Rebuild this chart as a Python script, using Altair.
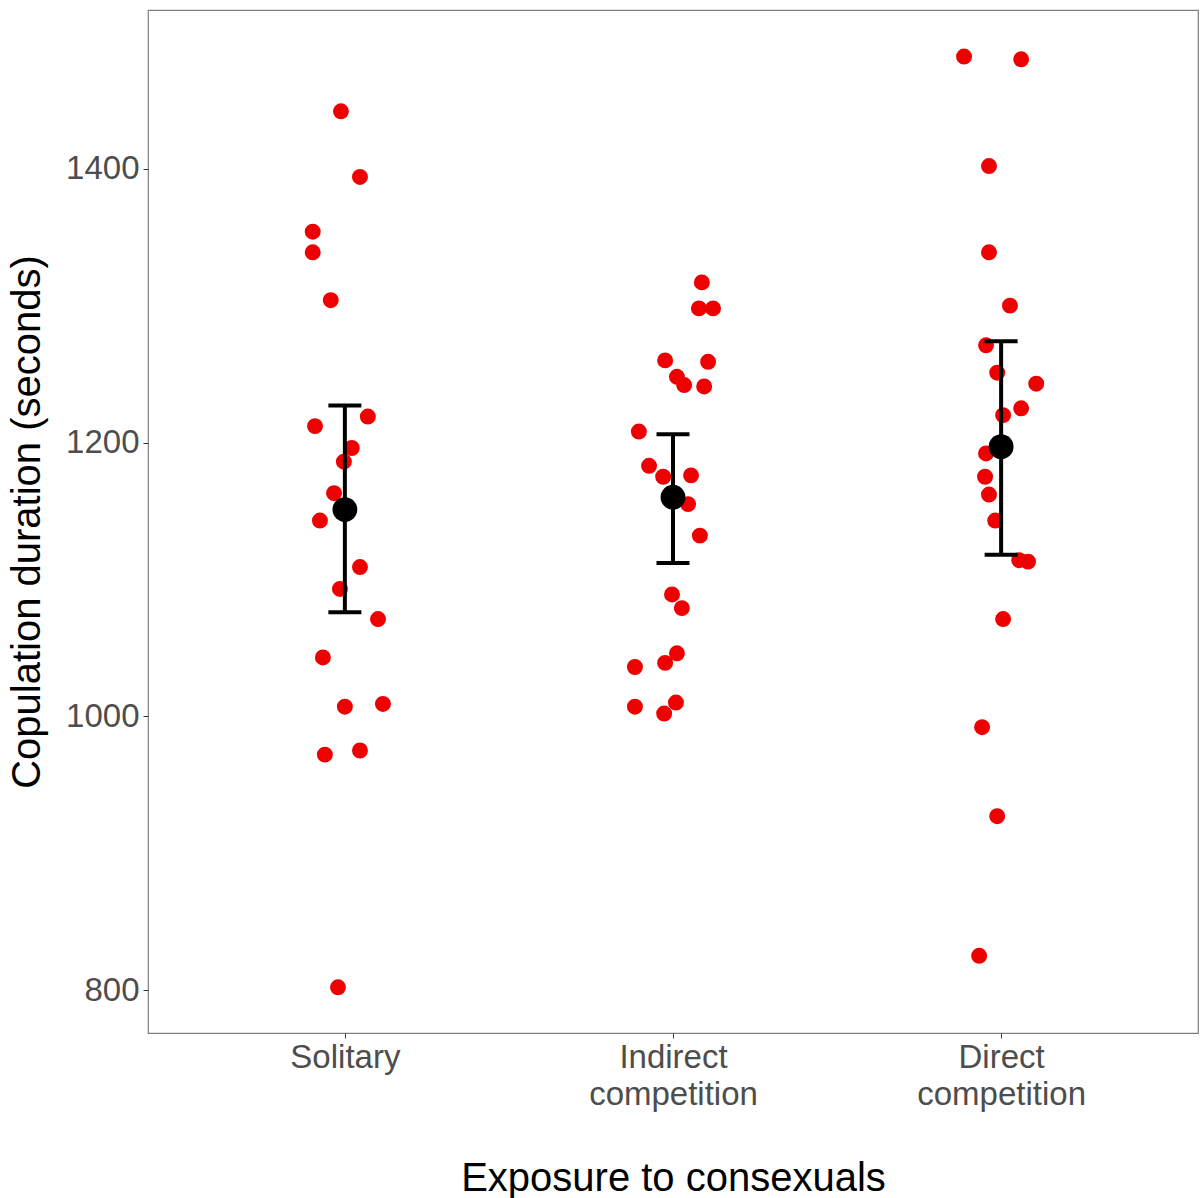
import altair as alt
import pandas as pd

# Treatment groups (x positions 1, 2, 3 on the axis)
categories = ["Solitary", "Indirect\ncompetition", "Direct\ncompetition"]

# Individual copulation durations (seconds) and their jittered x positions
solitary_y = [1442, 1394, 1354, 1339, 1304, 1212, 1219, 1196, 1186, 1163,
              1143, 1109, 1093, 1071, 1043, 1007, 1009, 972, 975, 802]
solitary_x = [0.988, 1.046, 0.902, 0.902, 0.957, 0.909, 1.070, 1.021, 0.997, 0.967,
              0.924, 1.046, 0.985, 1.101, 0.933, 1.000, 1.116, 0.939, 1.046, 0.979]

indirect_y = [1317, 1298, 1298, 1260, 1259, 1248, 1242, 1241, 1208, 1183, 1175,
              1176, 1155, 1132, 1089, 1079, 1046, 1039, 1036, 1010, 1007, 1002]
indirect_x = [2.088, 2.079, 2.122, 1.976, 2.107, 2.012, 2.034, 2.095, 1.896, 1.927, 1.970,
              2.055, 2.046, 2.082, 1.997, 2.027, 2.012, 1.976, 1.884, 2.009, 1.884, 1.973]

direct_y = [1482, 1480, 1402, 1339, 1300, 1271, 1251, 1243, 1225, 1220,
            1192, 1175, 1162, 1143, 1114, 1113, 1071, 992, 927, 825]
direct_x = [2.887, 3.061, 2.963, 2.963, 3.027, 2.954, 2.988, 3.107, 3.061, 3.006,
            2.954, 2.951, 2.963, 2.982, 3.055, 3.082, 3.006, 2.942, 2.988, 2.933]

# Group means with 95% confidence limits
group_pos = [1, 2, 3]
group_mean = [1151, 1160, 1197]
group_lo = [1076, 1112, 1118]
group_hi = [1227, 1206, 1274]

points = pd.DataFrame({
    "pos": solitary_x + indirect_x + direct_x,
    "duration": solitary_y + indirect_y + direct_y,
})
summary = pd.DataFrame({
    "pos": group_pos,
    "mean": group_mean,
    "lo": group_lo,
    "hi": group_hi,
})

# Axis labels: split each category name into lines
label_parts = []
for i, name in enumerate(categories, start=1):
    lines = name.split("\n")
    arr = "[" + ", ".join("'" + s + "'" for s in lines) + "]"
    label_parts.append(f"datum.value == {i} ? {arr}")
label_expr = " : ".join(label_parts) + " : ''"

x_scale = alt.Scale(domain=[0.4, 3.6], nice=False, zero=False)
y_scale = alt.Scale(domain=[768.6, 1516], nice=False, zero=False)

x_axis = alt.Axis(
    title="Exposure to consexuals",
    values=group_pos,
    labelExpr=label_expr,
    grid=False,
    domain=False,
    tickSize=5,
    tickColor="#333333",
    labelPadding=3,
    labelLineHeight=37,
    labelBaseline="top",
    titlePadding=47,
)
y_axis = alt.Axis(
    title="Copulation duration (seconds)",
    values=[800, 1000, 1200, 1400],
    format="d",
    grid=False,
    domain=False,
    tickSize=5,
    tickColor="#333333",
    labelPadding=4,
    titlePadding=18,
)

dots = alt.Chart(points).mark_circle(size=254, opacity=1, color="#EE0000").encode(
    x=alt.X("pos:Q", scale=x_scale, axis=x_axis),
    y=alt.Y("duration:Q", scale=y_scale, axis=y_axis),
)

base = alt.Chart(summary)

bars = base.mark_rule(color="black", strokeWidth=4).encode(
    x=alt.X("pos:Q", scale=x_scale),
    y=alt.Y("lo:Q", scale=y_scale),
    y2="hi:Q",
)
cap_hi = base.mark_tick(color="black", orient="horizontal", size=33, thickness=4, opacity=1).encode(
    x=alt.X("pos:Q", scale=x_scale),
    y=alt.Y("hi:Q", scale=y_scale),
)
cap_lo = base.mark_tick(color="black", orient="horizontal", size=33, thickness=4, opacity=1).encode(
    x=alt.X("pos:Q", scale=x_scale),
    y=alt.Y("lo:Q", scale=y_scale),
)
means = base.mark_circle(size=615, opacity=1, color="black").encode(
    x=alt.X("pos:Q", scale=x_scale),
    y=alt.Y("mean:Q", scale=y_scale),
)

chart = alt.layer(dots, bars, cap_hi, cap_lo, means).properties(
    width=1050,
    height=1023,
    autosize=alt.AutoSizeParams(type="none"),
    padding={"left": 148, "top": 10, "right": 4, "bottom": 165},
    background="white",
).configure(
    font="Liberation Sans",
).configure_view(
    stroke="#7F7F7F",
    strokeWidth=1.2,
).configure_axis(
    labelFont="Liberation Sans",
    labelFontSize=33,
    labelColor="#4D4D4D",
    titleFont="Liberation Sans",
    titleFontSize=40,
    titleFontWeight="normal",
    titleColor="black",
)

chart.save("out.html", embed_options={"renderer": "svg", "actions": False})
